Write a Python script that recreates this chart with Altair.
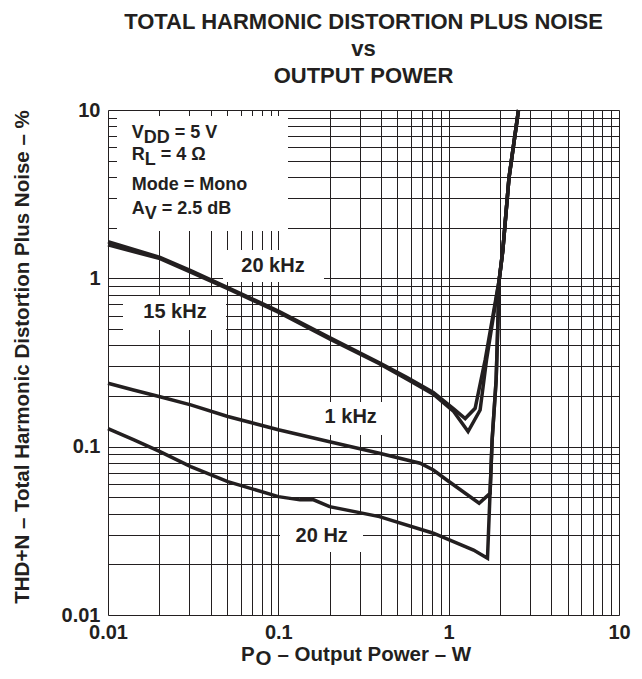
import altair as alt
import pandas as pd

# ---------------- data ----------------
p_20khz = [0.01, 0.0202, 0.0306, 0.0505, 0.1, 0.2, 0.392, 0.567, 0.813, 1.07, 1.25, 1.43, 1.64, 1.98, 2.08, 2.26, 2.57]
thd_20khz = [1.65, 1.33, 1.11, 0.88, 0.64, 0.445, 0.315, 0.258, 0.21, 0.168, 0.147, 0.169, 0.33, 0.98, 1.47, 3.95, 10.0]

p_15khz = [0.01, 0.0202, 0.0306, 0.0505, 0.1, 0.2, 0.392, 0.567, 0.813, 1.07, 1.30, 1.53, 1.67, 1.98, 2.08, 2.26, 2.57]
thd_15khz = [1.58, 1.31, 1.09, 0.868, 0.63, 0.437, 0.311, 0.252, 0.205, 0.162, 0.123, 0.165, 0.33, 0.98, 1.47, 3.95, 10.0]

p_1khz = [0.01, 0.0141, 0.0202, 0.0306, 0.0505, 0.1, 0.2, 0.392, 0.68, 0.813, 0.975, 1.51, 1.75, 1.80, 1.90, 1.98, 2.08, 2.26, 2.57]
thd_1khz = [0.238, 0.217, 0.198, 0.177, 0.151, 0.126, 0.107, 0.0914, 0.0797, 0.0727, 0.0634, 0.0461, 0.0528, 0.11, 0.249, 0.98, 1.47, 3.95, 10.0]

p_20hz = [0.01, 0.0141, 0.0202, 0.0306, 0.0505, 0.1, 0.134, 0.161, 0.2, 0.392, 0.813, 1.40, 1.69, 1.80, 1.90, 1.98, 2.08, 2.26, 2.57]
thd_20hz = [0.128, 0.110, 0.0934, 0.0761, 0.0620, 0.0505, 0.0483, 0.0483, 0.0440, 0.0384, 0.0306, 0.0243, 0.0217, 0.11, 0.249, 0.98, 1.47, 3.95, 10.0]

series = [("20 kHz", p_20khz, thd_20khz), ("15 kHz", p_15khz, thd_15khz),
          ("1 kHz", p_1khz, thd_1khz), ("20 Hz", p_20hz, thd_20hz)]

rows = []
for name, ps, ts in series:
    for i, (p, t) in enumerate(zip(ps, ts)):
        rows.append({"series": name, "P": p, "THD": t, "i": i})
df = pd.DataFrame(rows)

x_decades = [0.01, 0.1, 1, 10]
y_decades = [0.01, 0.1, 1, 10]

# ---------------- styling ----------------
W, H = 511, 505
INK = "#231f20"
FONT = "Liberation Sans"
grid_vals = [round(m * 10.0 ** e, 6) for e in (-2, -1, 0) for m in range(1, 10)] + [10.0]
label_expr = ("datum.value == 0.01 ? '0.01' : datum.value == 0.1 ? '0.1' : "
              "datum.value == 1 ? '1' : datum.value == 10 ? '10' : ''")

one = pd.DataFrame({"a": [0]})

x_axis = alt.Axis(values=grid_vals, labelExpr=label_expr, grid=True, gridColor=INK,
                  gridWidth=1, gridOpacity=1, ticks=False, domain=False,
                  labelFont=FONT, labelFontSize=20, labelFontWeight="bold",
                  labelColor=INK, labelPadding=7, labelOverlap=False,
                  labelFlush=False, title=None)
y_axis = alt.Axis(values=grid_vals, labelExpr=label_expr, grid=True, gridColor=INK,
                  gridWidth=1, gridOpacity=1, ticks=False, domain=False,
                  labelFont=FONT, labelFontSize=20, labelFontWeight="bold",
                  labelColor=INK, labelPadding=8, labelOverlap=False,
                  labelFlush=False,
                  title="THD+N – Total Harmonic Distortion Plus Noise – %",
                  titleFont=FONT, titleFontSize=20.5, titleFontWeight="bold",
                  titleColor=INK, titleAngle=270, titleX=-86, titleY=H / 2 - 6,
                  titleAlign="center", titleBaseline="middle")


def white_box(x1, x2, y1, y2):
    return alt.Chart(one).mark_rect(color="white", opacity=1).encode(
        x=alt.value(x1), x2=alt.value(x2), y=alt.value(y1), y2=alt.value(y2))


def txt(s, x, y, size, align="left", baseline="alphabetic"):
    return alt.Chart(one).mark_text(
        text=s, align=align, baseline=baseline, font=FONT, fontSize=size,
        fontWeight="bold", color=INK).encode(x=alt.value(x), y=alt.value(y))


boxes = [
    white_box(9, 180, 6, 121),      # conditions box
    white_box(115, 216, 140, 172),  # 20 kHz
    white_box(15, 118, 186, 220),   # 15 kHz
    white_box(210, 277, 292, 325),  # 1 kHz
    white_box(172, 255, 405, 442),  # 20 Hz
]

lines = alt.Chart(df).mark_line(color=INK, strokeWidth=3.5, strokeJoin="miter").encode(
    x=alt.X("P:Q", scale=alt.Scale(type="log", domain=[0.01, 10], nice=False), axis=x_axis),
    y=alt.Y("THD:Q", scale=alt.Scale(type="log", domain=[0.01, 10], nice=False), axis=y_axis),
    detail="series:N",
    order="i:Q",
)

texts = [
    # title
    txt("TOTAL HARMONIC DISTORTION PLUS NOISE", W / 2, -88, 22, "center", "middle"),
    txt("vs", W / 2, -61, 22, "center", "middle"),
    txt("OUTPUT POWER", W / 2, -34, 22, "center", "middle"),
    # conditions
    txt("V", 23.7, 28, 18), txt("DD", 35.7, 33, 18), txt("= 5 V", 66.7, 28, 18),
    txt("R", 23.7, 50, 18), txt("L", 36.7, 55, 18), txt("= 4 Ω", 52.7, 50, 18),
    txt("Mode = Mono", 23.7, 80, 18),
    txt("A", 23.7, 104, 18), txt("V", 36.7, 109, 18), txt("= 2.5 dB", 53.7, 104, 18),
    # curve labels
    txt("20 kHz", 165, 161.7, 20, "center"),
    txt("15 kHz", 67, 208.3, 20, "center"),
    txt("1 kHz", 242.7, 313.3, 20, "center"),
    txt("20 Hz", 213.7, 431.7, 20, "center"),
    # x axis title
    txt("P", 133, 551, 20.5), txt("O", 147.5, 555, 20.5),
    txt("– Output Power – W", 169.5, 551, 20.5),
]

chart = alt.layer(*boxes, lines, *texts).properties(
    width=W, height=H,
    autosize=alt.AutoSizeParams(type="none"),
    padding={"left": 100, "top": 102, "right": 15, "bottom": 53},
).configure_view(stroke="#444444", strokeWidth=2).configure(font=FONT)

chart.save("out.html", embed_options={"renderer": "svg", "actions": False})
